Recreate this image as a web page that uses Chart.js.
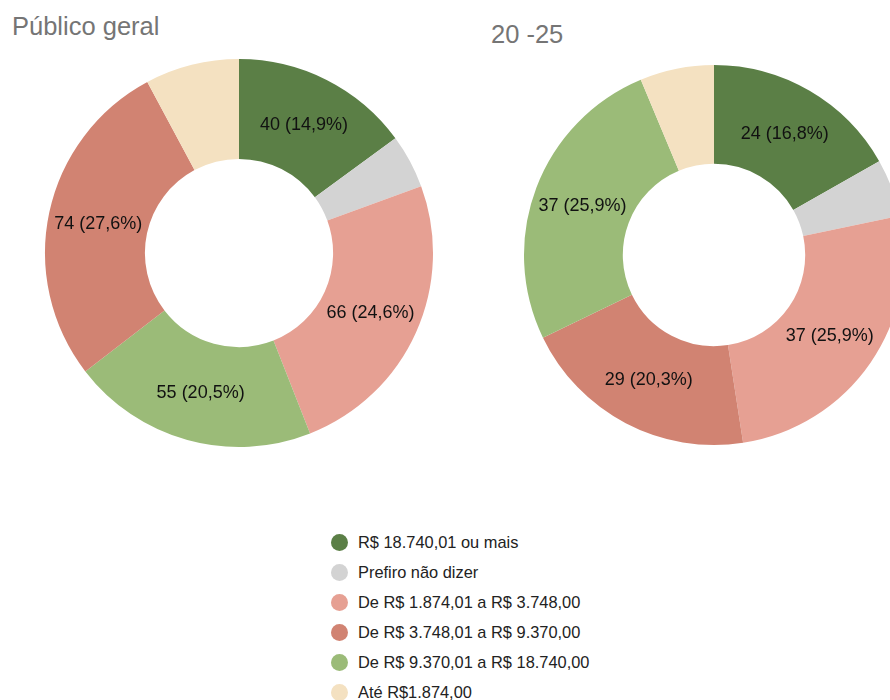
<!DOCTYPE html>
<html lang="pt-BR">
<head>
<meta charset="utf-8">
<script src="https://cdn.jsdelivr.net/npm/chart.js@4/dist/chart.umd.min.js"></script>
<style>
  html, body { margin: 0; padding: 0; background: #fff; }
  body { width: 890px; height: 700px; overflow: hidden; position: relative;
         font-family: "Liberation Sans", Arial, sans-serif; }
  .title { position: absolute; color: #757575; font-size: 25.5px; white-space: nowrap; line-height: 1; }
  canvas { position: absolute; }
  #legend { position: absolute; left: 331px; top: 527px; margin: 0; padding: 0; list-style: none; }
  #legend li { height: 30px; display: flex; align-items: center; font-size: 16.4px; color: #222; white-space: nowrap; }
  #legend .dot { width: 17px; height: 17px; border-radius: 50%; margin-right: 10px; flex: none; }
</style>
</head>
<body>
<div class="title" style="left:12px; top:14px;">Público geral</div>
<div class="title" style="left:491px; top:22px;">20 -25</div>
<canvas id="c1" width="400" height="400" style="left:39px; top:53px;"></canvas>
<canvas id="c2" width="400" height="400" style="left:514px; top:55px;"></canvas>
<ul id="legend"></ul>
<script>
// Income brackets (legend order) and their colours
const categories = [
  "R$ 18.740,01 ou mais",
  "Prefiro não dizer",
  "De R$ 1.874,01 a R$ 3.748,00",
  "De R$ 3.748,01 a R$ 9.370,00",
  "De R$ 9.370,01 a R$ 18.740,00",
  "Até R$1.874,00"
];
const categoryColors = ["#5b7f46", "#d3d3d3", "#e6a093", "#d18372", "#9bbb78", "#f4e1c1"];

// Público geral: slices in drawing order (clockwise from top)
const geralOrder  = [0, 1, 2, 4, 3, 5];
const geralValues = [40, 12, 66, 55, 74, 21];

// 20 -25: slices in drawing order (clockwise from top)
const jovensOrder  = [0, 1, 2, 3, 4, 5];
const jovensValues = [24, 7, 37, 29, 37, 9];

// Writes "value (pct%)" in the middle of each slice big enough to hold it
const sliceLabels = {
  id: "sliceLabels",
  afterDatasetsDraw(chart) {
    const ctx = chart.ctx;
    const ds = chart.data.datasets[0];
    const total = ds.data.reduce((a, b) => a + b, 0);
    const meta = chart.getDatasetMeta(0);
    ctx.save();
    ctx.font = '18px "Liberation Sans", Arial, sans-serif';
    ctx.fillStyle = "#111";
    ctx.textAlign = "center";
    ctx.textBaseline = "middle";
    meta.data.forEach((arc, i) => {
      const v = ds.data[i];
      const pct = v / total * 100;
      if (pct < 10) return;
      const p = arc.getProps(["startAngle", "endAngle", "innerRadius", "outerRadius", "x", "y"], true);
      const a = (p.startAngle + p.endAngle) / 2;
      const r = (p.innerRadius + p.outerRadius) / 2;
      const txt = v + " (" + pct.toFixed(1).replace(".", ",") + "%)";
      ctx.fillText(txt, p.x + Math.cos(a) * r, p.y + Math.sin(a) * r + 1);
    });
    ctx.restore();
  }
};

function makeDoughnut(id, order, values, outer, inner) {
  return new Chart(document.getElementById(id), {
    type: "doughnut",
    data: {
      labels: order.map(i => categories[i]),
      datasets: [{
        data: values,
        backgroundColor: order.map(i => categoryColors[i]),
        borderWidth: 0,
        hoverOffset: 0
      }]
    },
    options: {
      responsive: false,
      animation: false,
      devicePixelRatio: 1,
      radius: outer,
      cutout: inner,
      layout: { padding: 0 },
      plugins: { legend: { display: false }, tooltip: { enabled: false } },
      events: []
    },
    plugins: [sliceLabels]
  });
}

makeDoughnut("c1", geralOrder, geralValues, 194, 97);
makeDoughnut("c2", jovensOrder, jovensValues, 190, 96);

// Shared legend
const legend = document.getElementById("legend");
categories.forEach((name, i) => {
  const li = document.createElement("li");
  const dot = document.createElement("span");
  dot.className = "dot";
  dot.style.background = categoryColors[i];
  li.appendChild(dot);
  li.appendChild(document.createTextNode(name));
  legend.appendChild(li);
});
</script>
</body>
</html>
